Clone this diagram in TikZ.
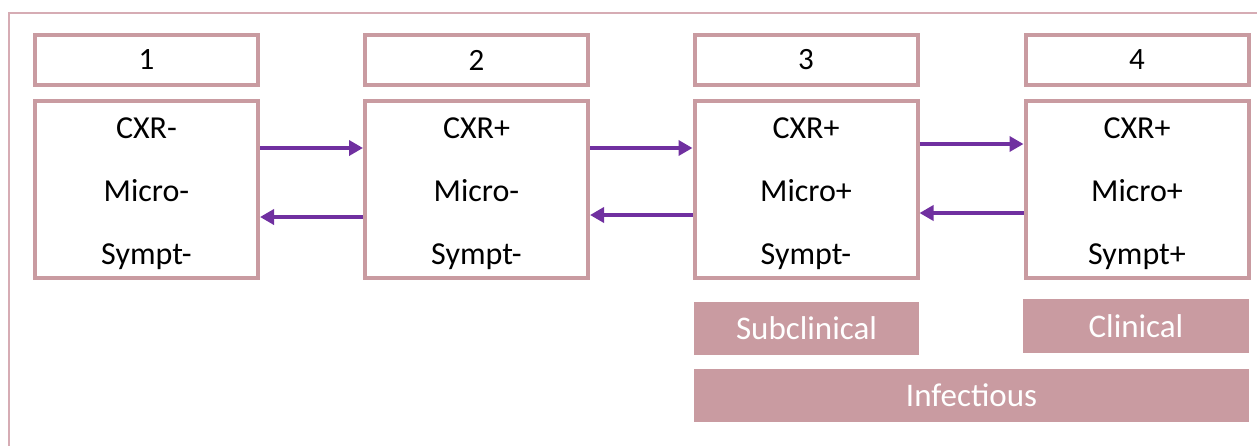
\documentclass[tikz,border=0pt]{standalone}
\usepackage{fontspec}
\setmainfont{Carlito}
\usetikzlibrary{arrows.meta}
\definecolor{rose}{RGB}{201,155,161}
\definecolor{framerose}{RGB}{214,172,180}
\definecolor{stagepurple}{RGB}{112,48,160}
\newcommand{\toppad}{\rule{0pt}{15pt}}
\tikzset{
	numbox/.style={draw=rose, line width=2pt, minimum width=111.5pt, minimum height=25pt, inner sep=0pt, font=\fontsize{15.5}{18}\selectfont},
	statebox/.style={draw=rose, line width=2pt, minimum width=111.5pt, minimum height=88.5pt, inner sep=0pt, align=center, font=\fontsize{16}{31.5}\selectfont},
	phasebar/.style={fill=rose, text=white, inner sep=0pt, minimum height=26.5pt, font=\fontsize{16.5}{20}\selectfont},
	flow/.style={stagepurple, line width=2pt, -{Triangle[length=7pt,width=7.5pt]}}
}

\begin{document}
\begin{tikzpicture}[x=0.5pt, y=-0.5pt]
		\useasboundingbox (0,0) rectangle (1257,445);
		\draw [framerose, line width=1pt] (9,13) rectangle (1275,470);
		
		% stage numbers
		\node [numbox] (n1) at (146.5,60) {1};
		\node [numbox] (n2) at (476.5,60) {2};
		\node [numbox] (n3) at (806,60) {3};
		\node [numbox] (n4) at (1137,60) {4};
		
		% stage states
		\node [statebox] (s1) at (146.5,189.5) {\toppad CXR-\\Micro-\\Sympt-};
		\node [statebox] (s2) at (476.5,189.5) {\toppad CXR+\\Micro-\\Sympt-};
		\node [statebox] (s3) at (806,189.5) {\toppad CXR+\\Micro+\\Sympt-};
		\node [statebox] (s4) at (1137,189.5) {\toppad CXR+\\Micro+\\Sympt+};
		
		\draw [flow] ([yshift=20.75pt]s1.east) -- ([yshift=20.75pt]s2.west);
		\draw [flow] ([yshift=-13.75pt]s2.west) -- ([yshift=-13.75pt]s1.east);
		\draw [flow] ([yshift=20.75pt]s2.east) -- ([yshift=20.75pt]s3.west);
		\draw [flow] ([yshift=-12.75pt]s3.west) -- ([yshift=-12.75pt]s2.east);
		\draw [flow] ([yshift=22.75pt]s3.east) -- ([yshift=22.75pt]s4.west);
		\draw [flow] ([yshift=-11.75pt]s4.west) -- ([yshift=-11.75pt]s3.east);
		
		% phases
		\node [phasebar, minimum width=112.5pt] (sub) at (806.5,328) {Subclinical};
		\node [phasebar, minimum width=113pt, minimum height=27pt] (clin) at (1136,326) {Clinical};
		\node [phasebar, minimum width=277.5pt] (inf) at (971.5,395.5) {Infectious};
	\end{tikzpicture}
\end{document}
